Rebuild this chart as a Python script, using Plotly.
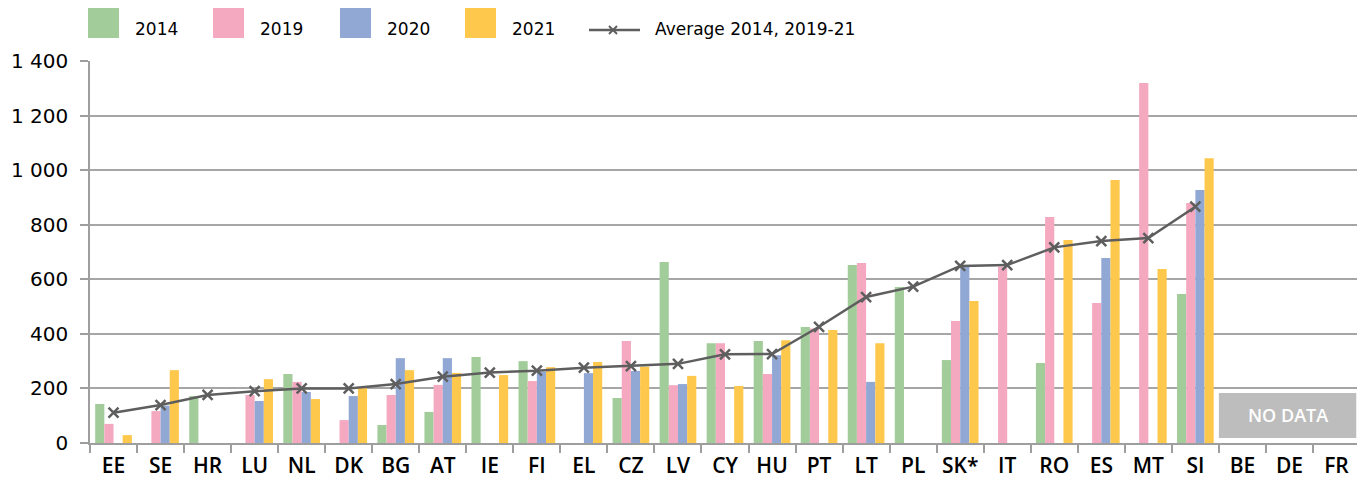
import plotly.graph_objects as go

countries = ["EE", "SE", "HR", "LU", "NL", "DK", "BG", "AT", "IE", "FI", "EL", "CZ", "LV", "CY",
             "HU", "PT", "LT", "PL", "SK*", "IT", "RO", "ES", "MT", "SI", "BE", "DE", "FR"]
v2014 = [143, None, 172, None, 253, None, 66, 114, 315, 300, None, 165, 663, 366,
         374, 425, 652, 572, 304, None, 293, None, None, 546, None, None, None]
v2019 = [70, 117, None, 176, 224, 84, 176, 213, None, 227, None, 374, 212, 366,
         253, 420, 660, None, 447, 646, 828, 513, 1319, 880, None, None, None]
v2020 = [None, 137, None, 154, 187, 172, 311, 311, None, 261, 256, 264, 216, None,
         322, None, 224, None, 646, None, None, 678, None, 927, None, None, None]
v2021 = [29, 267, None, 234, 161, 201, 267, 257, 249, 278, 297, 280, 246, 209,
         377, 414, 366, None, 520, None, 744, 964, 638, 1044, None, None, None]
average = [111, 139, 176, 190, 200, 200, 216, 243, 258, 265, 276, 282, 290, 325,
           326, 426, 535, 573, 649, 652, 717, 740, 751, 866, None, None, None]

y_ticks = [0, 200, 400, 600, 800, 1000, 1200, 1400]
y_tick_labels = ["0", "200", "400", "600", "800", "1 000", "1 200", "1 400"]

series = [("2014", v2014, "#A2CD9A"), ("2019", v2019, "#F4A9C0"),
          ("2020", v2020, "#92A8D4"), ("2021", v2021, "#FEC84D")]
line_name = "Average 2014, 2019-21"
line_color = "#5E5E5E"
no_data_label = "NO DATA"

fig = go.Figure()
for name, vals, col in series:
    fig.add_trace(go.Bar(x=countries, y=vals, name=name, marker_color=col,
                         marker_line_width=0, showlegend=False))
fig.add_trace(go.Scatter(x=countries, y=average, name=line_name, mode="lines+markers",
                         line=dict(color=line_color, width=2.5),
                         marker=dict(symbol="x-thin", size=10,
                                     line=dict(color=line_color, width=2.5)),
                         showlegend=False, cliponaxis=False))

# target pixel frame (page body adds an 8px offset)
OFF = 8
W, H = 1365 - OFF, 479 - OFF
L, R, T, B = 90, 1360, 61, 443
def px(x):
    return (x - L) / (R - L)
def py(y):
    return (B - y) / (B - T)

shapes = []
annotations = []
leg_x = [88, 213, 340, 465]
for (name, vals, col), lx in zip(series, leg_x):
    shapes.append(dict(type="rect", xref="paper", yref="paper",
                       x0=px(lx), x1=px(lx + 31), y0=py(38), y1=py(7),
                       fillcolor=col, line_width=0))
    annotations.append(dict(xref="paper", yref="paper", x=px(lx + 45), y=py(29.5),
                            text=name, showarrow=False, xanchor="left", yanchor="middle",
                            font=dict(family="DejaVu Sans", size=17, color="#000000")))
shapes.append(dict(type="line", xref="paper", yref="paper", x0=px(589), x1=px(640),
                   y0=py(30), y1=py(30), line=dict(color=line_color, width=2.5)))
for dx in (-4, 4):
    shapes.append(dict(type="line", xref="paper", yref="paper", x0=px(613 - 4), x1=px(613 + 4),
                       y0=py(30 - dx), y1=py(30 + dx), line=dict(color=line_color, width=2)))
annotations.append(dict(xref="paper", yref="paper", x=px(653), y=py(29.5),
                        text=line_name, showarrow=False, xanchor="left", yanchor="middle",
                        font=dict(family="DejaVu Sans", size=17, color="#000000")))

shapes.append(dict(type="rect", xref="x", yref="y", x0=23.5, x1=26.42, y0=18, y1=183,
                   fillcolor="#BDBDBD", line_width=0, layer="above"))
annotations.append(dict(xref="x", yref="y", x=24.96, y=102, text=no_data_label,
                        showarrow=False,
                        font=dict(family="Open Sans", size=18, color="#FFFFFF", weight=600)))

fig.update_layout(
    width=W, height=H,
    margin=dict(l=L - OFF, r=(1365 - R), t=T - OFF, b=(479 - B), autoexpand=False),
    paper_bgcolor="#FFFFFF", plot_bgcolor="#FFFFFF",
    barmode="group", bargap=0.22, bargroupgap=0,
    shapes=shapes, annotations=annotations,
    showlegend=False,
    font=dict(family="DejaVu Sans", color="#000000"),
    xaxis=dict(type="category", showgrid=False, showline=True, linecolor="#9E9E9E", linewidth=1.5,
               ticks="outside", tickson="boundaries", ticklen=8, tickcolor="#9E9E9E", tickwidth=1.5,
               tickfont=dict(family="Open Sans", size=21, color="#000000", weight=600),
               ticklabelstandoff=3, automargin=False,
               range=[-0.5, 26.5]),
    yaxis=dict(range=[0, 1400], tickvals=y_ticks, ticktext=y_tick_labels,
               showgrid=True, gridcolor="#A6A6A6", gridwidth=1.5,
               showline=True, linecolor="#9E9E9E", linewidth=1.5,
               ticks="outside", ticklen=8, tickcolor="#9E9E9E", tickwidth=1.5,
               tickfont=dict(family="DejaVu Sans", size=20, color="#000000"),
               ticklabelstandoff=8, automargin=False,
               zeroline=False),
)

fig.write_html("out.html")
